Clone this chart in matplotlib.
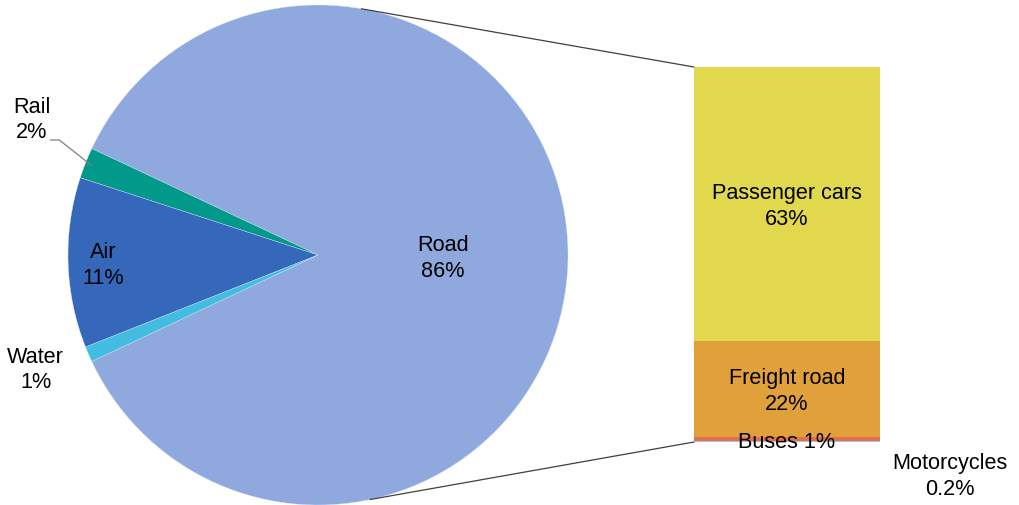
import matplotlib
matplotlib.use("Agg")
import matplotlib.pyplot as plt
from matplotlib.patches import ConnectionPatch
import numpy as np

plt.rcParams['font.family'] = ['Liberation Sans', 'DejaVu Sans']

# Transport modes (share of emissions, %)
modes = ["Road", "Rail", "Air", "Water"]
mode_shares = [86, 2, 11, 1]
mode_colors = ["#8FA8DE", "#00998A", "#3568BA", "#42BCE0"]

# Breakdown of road transport (bottom to top in the bar)
road_parts = ["Motorcycles", "Buses", "Freight road", "Passenger cars"]
road_shares = [0.2, 1, 22, 63]
road_colors = ["#9EC3E6", "#E66E4B", "#E1A13A", "#E1D84E"]

W, H = 1019, 505
fig = plt.figure(figsize=(W / 100, H / 100), dpi=100)
FS = 15.6
LS = 1.3

# ---- pie ----
ax_pie = fig.add_axes([68 / W, 0 / H, 500 / W, 500 / H])
start = -mode_shares[0] / 100 * 360 / 2
wedges, _ = ax_pie.pie(mode_shares, colors=mode_colors, startangle=start,
                       counterclock=True, radius=1,
                       wedgeprops=dict(edgecolor="#DDE6F5", linewidth=0.25))
ax_pie.set_xlim(-1, 1)
ax_pie.set_ylim(-1, 1)
ax_pie.set_aspect("equal")
ax_pie.axis("off")

def mid_angle(w):
    return np.deg2rad((w.theta1 + w.theta2) / 2)

# Road and Air labels inside their wedges
for i, dist in [(0, 0.5), (2, 0.86)]:
    a = mid_angle(wedges[i])
    ax_pie.text(dist * np.cos(a), dist * np.sin(a) - 0.015, f"{modes[i]}\n{mode_shares[i]}%",
                ha="center", va="center", fontsize=FS, linespacing=LS)

# Rail label outside with leader line
ax_pie.text(-1.145, 0.54, f"{modes[1]}\n{mode_shares[1]}%", ha="center",
            va="center", fontsize=FS, linespacing=LS, clip_on=False)
a_rail = mid_angle(wedges[1])
ax_pie.plot([-1.07, -1.035, np.cos(a_rail) * 0.975], [0.46, 0.46, np.sin(a_rail) * 0.975],
            color="#808080", lw=0.9, clip_on=False)

# Water label outside
ax_pie.text(-1.13, -0.46, f"{modes[3]}\n{mode_shares[3]}%", ha="center",
            va="center", fontsize=FS, linespacing=LS, clip_on=False)

# ---- stacked bar ----
ax_bar = fig.add_axes([694 / W, (H - 442) / H, 186 / W, 375 / H])
bottom = 0
for name, val, col in zip(road_parts, road_shares, road_colors):
    ax_bar.bar(0, val, bottom=bottom, width=1, color=col, edgecolor="none")
    if name in ("Passenger cars", "Freight road"):
        ax_bar.text(0, bottom + val / 2 - 0.5, f"{name}\n{val:g}%", ha="center", va="center",
                    fontsize=FS, linespacing=LS)
    elif name == "Buses":
        ax_bar.text(0, bottom + val / 2 - 0.7, f"{name} {val:g}%", ha="center", va="center",
                    fontsize=FS)
    bottom += val
total = sum(road_shares)
ax_bar.set_xlim(-0.5, 0.5)
ax_bar.set_ylim(0, total)
ax_bar.axis("off")

ax_bar.text(0.876, -7.9, f"{road_parts[0]}\n{road_shares[0]:g}%", ha="center", va="center",
            fontsize=FS, linespacing=LS, clip_on=False)

# ---- connector lines between pie and bar ----
for ang, ybar in [(80, total), (-78, 0)]:
    r = np.deg2rad(ang)
    con = ConnectionPatch(xyA=(np.cos(r), np.sin(r)), coordsA=ax_pie.transData,
                          xyB=(-0.5, ybar), coordsB=ax_bar.transData,
                          color="#404040", lw=0.9)
    fig.add_artist(con)

fig.savefig("out.png", dpi=100)
